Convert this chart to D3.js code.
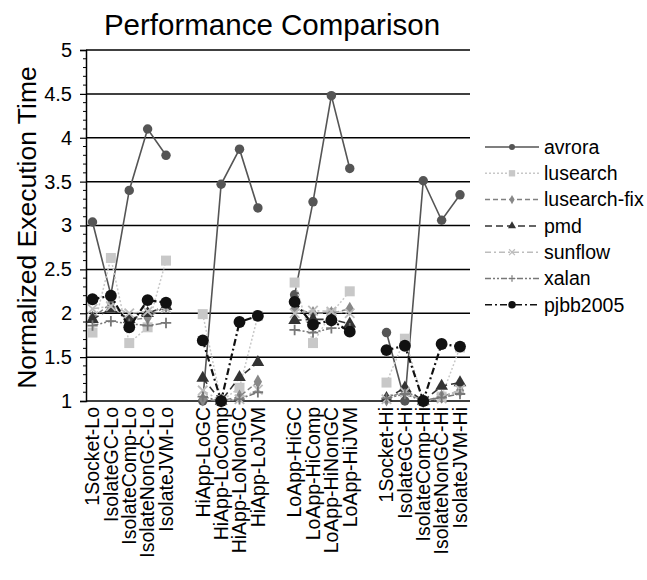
<!DOCTYPE html>
<html>
<head>
<meta charset="utf-8">
<script src="https://cdn.jsdelivr.net/npm/d3@7/dist/d3.min.js"></script>
<style>
  html, body { margin: 0; padding: 0; background: #fff; }
  svg { display: block; font-family: "Liberation Sans", Arial, Helvetica, sans-serif; }
</style>
</head>
<body>
<svg id="chart" width="647" height="580"></svg>
<script>
// Categories (null = gap between groups)
const categories = [
  "1Socket-Lo", "IsolateGC-Lo", "IsolateComp-Lo", "IsolateNonGC-Lo", "IsolateJVM-Lo", null,
  "HiApp-LoGC", "HiApp-LoComp", "HiApp-LoNonGC", "HiApp-LoJVM", null,
  "LoApp-HiGC", "LoApp-HiComp", "LoApp-HiNonGC", "LoApp-HiJVM", null,
  "1Socket-Hi", "IsolateGC-Hi", "IsolateComp-Hi", "IsolateNonGC-Hi", "IsolateJVM-Hi"
];
const avrora      = [3.04, 2.21, 3.40, 4.10, 3.80, null, 1.00, 3.47, 3.87, 3.20, null, 2.21, 3.27, 4.48, 3.65, null, 1.78, 1.00, 3.51, 3.06, 3.35];
const lusearch    = [1.78, 2.63, 1.66, 1.84, 2.60, null, 1.99, 1.00, 1.15, 1.97, null, 2.35, 1.66, 2.00, 2.25, null, 1.21, 1.71, 1.00, 1.05, 1.61];
const lusearchFix = [1.95, 2.11, 1.92, 1.95, 2.08, null, 1.02, 1.00, 1.05, 1.22, null, 2.05, 2.00, 2.00, 2.05, null, 1.02, 1.12, 1.00, 1.05, 1.12];
const pmd         = [1.93, 2.05, 1.93, 2.00, 2.08, null, 1.26, 1.00, 1.27, 1.44, null, 1.92, 1.93, 1.93, 1.88, null, 1.03, 1.15, 1.00, 1.17, 1.21];
const sunflow     = [2.05, 2.08, 2.00, 2.02, 2.06, null, 1.12, 1.00, 1.02, 1.13, null, 2.00, 2.03, 2.02, 2.00, null, 1.02, 1.10, 1.00, 1.03, 1.13];
const xalan       = [1.86, 1.91, 1.88, 1.86, 1.89, null, 1.05, 1.00, 1.02, 1.10, null, 1.81, 1.78, 1.83, 1.83, null, 1.03, 1.08, 1.00, 1.04, 1.08];
const pjbb2005    = [2.16, 2.20, 1.84, 2.15, 2.12, null, 1.69, 1.00, 1.90, 1.97, null, 2.13, 1.87, 1.92, 1.79, null, 1.58, 1.63, 1.00, 1.65, 1.62];
const yTicks = [1, 1.5, 2, 2.5, 3, 3.5, 4, 4.5, 5];

const seriesNames = ["avrora", "lusearch", "lusearch-fix", "pmd", "sunflow", "xalan", "pjbb2005"];
const seriesValues = [avrora, lusearch, lusearchFix, pmd, sunflow, xalan, pjbb2005];

const styles = {
  "avrora":       { stroke: "#555555", dash: null,          width: 1.6, marker: "circle",   fill: "#555555", size: 70 },
  "lusearch":     { stroke: "#c8c8c8", dash: "2,2",         width: 1.5, marker: "square",   fill: "#c8c8c8", size: 100 },
  "lusearch-fix": { stroke: "#808080", dash: "5,3",         width: 1.5, marker: "diamond",  fill: "#888888", size: 60 },
  "pmd":          { stroke: "#333333", dash: "7,4",         width: 1.6, marker: "triangle", fill: "#333333", size: 70 },
  "sunflow":      { stroke: "#bdbdbd", dash: "6,3,2,3",     width: 1.5, marker: "x",        fill: "#bdbdbd", size: 60 },
  "xalan":        { stroke: "#777777", dash: "6,2,2,2,2,2", width: 1.5, marker: "plus",     fill: "#777777", size: 70 },
  "pjbb2005":     { stroke: "#111111", dash: "7,3,2,3",     width: 2.2, marker: "circle",   fill: "#111111", size: 110 }
};

const svg = d3.select("#chart");
const plotLeft = 86, plotRight = 470, plotTop = 50, plotBottom = 401;

const x = d3.scalePoint().domain(d3.range(categories.length)).range([92.5, 460]);
const y = d3.scaleLinear().domain([1, 5]).range([plotBottom, plotTop]);

// Title
svg.append("text").attr("x", 272).attr("y", 35).attr("text-anchor", "middle")
  .attr("font-size", 29.5).attr("fill", "#000").text("Performance Comparison");

// Y axis title
svg.append("text").attr("transform", `translate(36,${(plotTop + plotBottom) / 2 + 2}) rotate(-90)`)
  .attr("text-anchor", "middle").attr("font-size", 26.5).attr("fill", "#000")
  .text("Normalized Execution Time");

// Gridlines
svg.append("g").selectAll("line").data(yTicks.filter(d => d > 1)).join("line")
  .attr("x1", plotLeft).attr("x2", plotRight)
  .attr("y1", d => y(d)).attr("y2", d => y(d))
  .attr("stroke", "#000").attr("stroke-width", 1.5);

// Y axis with major ticks
const yAxis = d3.axisLeft(y).tickValues(yTicks).tickSize(6).tickPadding(8)
  .tickFormat(d => d3.format("")(d));
const gy = svg.append("g").attr("transform", `translate(${plotLeft},0)`).call(yAxis);
gy.select(".domain").attr("stroke", "#000").attr("stroke-width", 1.5);
gy.selectAll(".tick line").attr("stroke", "#000").attr("stroke-width", 1.2);
gy.selectAll(".tick text").attr("font-size", 20).attr("fill", "#000")
  .attr("font-family", "Liberation Sans, Arial, sans-serif");

// Minor ticks
const minor = d3.range(1, 5.0001, 0.1).map(v => Math.round(v * 10) / 10).filter(v => Math.round(v * 10) % 5 !== 0);
svg.append("g").selectAll("line").data(minor).join("line")
  .attr("x1", plotLeft - 3).attr("x2", plotLeft)
  .attr("y1", d => y(d)).attr("y2", d => y(d))
  .attr("stroke", "#000").attr("stroke-width", 1);

// X axis line
svg.append("line").attr("x1", plotLeft).attr("x2", plotRight)
  .attr("y1", plotBottom).attr("y2", plotBottom)
  .attr("stroke", "#000").attr("stroke-width", 1.5);

// X labels
svg.append("g").selectAll("text").data(categories.map((c, i) => ({ c, i })).filter(d => d.c))
  .join("text")
  .attr("transform", d => `translate(${x(d.i)},${plotBottom + 6}) rotate(-90)`)
  .attr("text-anchor", "end").attr("dy", "0.35em")
  .attr("font-size", 19.5).attr("fill", "#000")
  .text(d => d.c);

function markerPath(type, size) {
  const map = {
    circle: d3.symbolCircle, square: d3.symbolSquare, diamond: d3.symbolDiamond,
    triangle: d3.symbolTriangle
  };
  if (type === "x") return d3.symbol().type(d3.symbolX).size(size)();
  if (type === "plus") {
    const r = Math.sqrt(size) / 1.6;
    return `M${-r},0L${r},0M0,${-r}L0,${r}`;
  }
  return d3.symbol().type(map[type]).size(size)();
}

const line = d3.line().defined(d => d.v !== null).x(d => x(d.i)).y(d => y(d.v));

const gSeries = svg.append("g");
seriesNames.forEach((name, si) => {
  const st = styles[name];
  const data = seriesValues[si].map((v, i) => ({ v, i }));
  gSeries.append("path").datum(data)
    .attr("d", line).attr("fill", "none")
    .attr("stroke", st.stroke).attr("stroke-width", st.width)
    .attr("stroke-dasharray", st.dash);
  const isStroke = st.marker === "x" || st.marker === "plus";
  gSeries.append("g").selectAll("path").data(data.filter(d => d.v !== null)).join("path")
    .attr("transform", d => `translate(${x(d.i)},${y(d.v)})`)
    .attr("d", markerPath(st.marker, st.size))
    .attr("fill", isStroke ? "none" : st.fill)
    .attr("stroke", isStroke ? st.stroke : "none")
    .attr("stroke-width", isStroke ? 1.8 : 0);
});

// Legend
const legend = svg.append("g");
seriesNames.forEach((name, i) => {
  const st = styles[name];
  const ly = 147 + i * 26.3;
  legend.append("line").attr("x1", 485).attr("x2", 539).attr("y1", ly).attr("y2", ly)
    .attr("stroke", st.stroke).attr("stroke-width", Math.min(st.width, 1.5))
    .attr("stroke-dasharray", st.dash);
  const isStroke = st.marker === "x" || st.marker === "plus";
  legend.append("path").attr("transform", `translate(512,${ly})`)
    .attr("d", markerPath(st.marker, st.size * 0.4))
    .attr("fill", isStroke ? "none" : st.fill)
    .attr("stroke", isStroke ? st.stroke : "none")
    .attr("stroke-width", isStroke ? 1.2 : 0);
  legend.append("text").attr("x", 544).attr("y", ly).attr("dy", "0.35em")
    .attr("font-size", 19.5).attr("fill", "#000").text(name);
});
</script>
</body>
</html>
